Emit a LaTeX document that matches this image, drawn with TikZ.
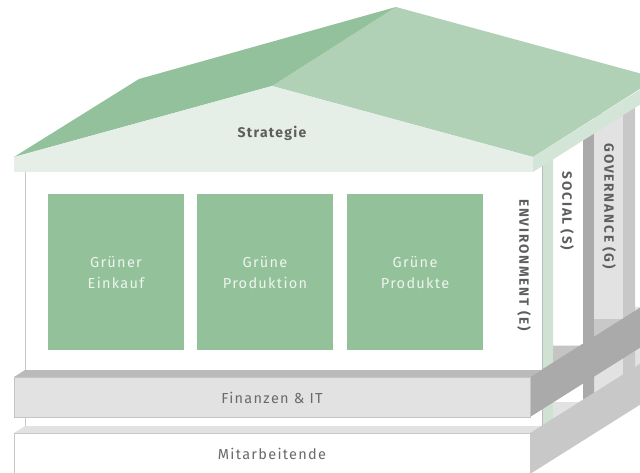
\documentclass[tikz,border=0pt]{standalone}
\usepackage{fontspec}
\setmainfont{Fira Sans}
\newfontfamily\labfont{Fira Sans}[LetterSpace=9]
\newfontfamily\pilfont{Fira Sans}[LetterSpace=14]
\definecolor{roofL}{HTML}{93C19B}
\definecolor{roofR}{HTML}{B1D1B6}
\definecolor{gable}{HTML}{E6EFE7}
\definecolor{strip}{HTML}{D3E5D6}
\definecolor{eside}{HTML}{D0E3D3}
\definecolor{boxg}{HTML}{93C19A}
\definecolor{txtg}{HTML}{6A6A6A}
\definecolor{piltxt}{HTML}{5E5E5E}
\definecolor{gA}{HTML}{AAAAAA}
\definecolor{gB}{HTML}{C4C4C4}
\definecolor{gC}{HTML}{C8C8C8}
\definecolor{gD}{HTML}{E2E2E2}
\definecolor{gE}{HTML}{E6E6E6}
\definecolor{boxtxt}{HTML}{EEF4EE}
\tikzset{
  greenbox/.style={fill=boxg, draw=none},
  boxtext/.style={font=\labfont\fontsize{14.5}{21}\selectfont, text=boxtxt, align=center, inner sep=0pt},
  planktext/.style={font=\labfont\fontsize{14.5}{16}\selectfont, text=txtg, inner sep=0pt},
  piltext/.style={font=\pilfont\bfseries\fontsize{13.5}{15}\selectfont, text=piltxt, rotate=-90, inner sep=0pt},
}
\begin{document}
\begin{tikzpicture}[x=1pt,y=-1pt]
\useasboundingbox (0,0) rectangle (640,473);
\clip (0,0) rectangle (640,473);
% Mitarbeitende top face (floor)
\fill[gD] (14,433) -- (530,433) -- (730,307) -- (214,307) -- cycle;
% columns
\fill[white] (553,139) rectangle (583,401.5);
\fill[gA] (583,131) -- (594,131) -- (594,393) -- (583,400) -- cycle;
\fill[gD] (594,113) rectangle (623,375);
\fill[gC] (623,106) -- (635,106) -- (635,367) -- (623,375) -- cycle;
% E side (green)
\fill[eside] (542,158) -- (553,158) -- (553,419) -- (542,426) -- cycle;
% front wall
\fill[white] (25,170) rectangle (542,426);
\draw[gC, line width=1pt] (25,172) -- (25,426);
\draw[gA!80, line width=0.8pt] (542,165) -- (542,426);
% Finanzen top face pieces
\fill[gB] (553,345.5) -- (583,345.5) -- (553,363) -- cycle;
\fill[gC] (594,319) -- (623,319) -- (594,337) -- cycle;
\fill[gB!95!black] (14,377) -- (530,377) -- (541,370) -- (25,370) -- cycle;
% Finanzen side band
\fill[gA] (530,377) -- (730,251) -- (730,291) -- (530,417) -- cycle;
% Finanzen front
\draw[fill=gD, draw=gB, line width=1pt] (14,377) rectangle (530,417);
\node[planktext] (fin) at (272,398) {Finanzen \& IT};
% Mitarbeitende
\fill[gC] (530,433) -- (730,307) -- (730,348) -- (530,474) -- cycle;
\fill[white] (14,433) rectangle (530,480);
\draw[gC, line width=1pt] (14,480) -- (14,433) -- (530,433) -- (530,480);
\node[planktext] (mit) at (272,454) {Mitarbeitende};
% green boxes
\fill[greenbox] (48,194) rectangle (184,350);
\fill[greenbox] (197,194) rectangle (333,350);
\fill[greenbox] (347,194) rectangle (483,350);
\node[boxtext] (b1) at (116,272.5) {Grüner\\Einkauf};
\node[boxtext] (b2) at (265,272.5) {Grüne\\Produktion};
\node[boxtext] (b3) at (415,272.5) {Grüne\\Produkte};
% pillar labels
\node[piltext] (env) at (524,265) {ENVIRONMENT (E)};
\node[piltext] (soc) at (567,211) {SOCIAL (S)};
\node[piltext] (gov) at (609,206) {GOVERNANCE (G)};
% roof
\fill[roofR] (272,86) -- (396,7) -- (657,78) -- (533,157) -- cycle;
\fill[roofL] (14,157) -- (139,79) -- (396,7) -- (272,86) -- cycle;
\fill[strip] (533,157) -- (533,172) -- (700,66.8) -- (700,51.8) -- cycle;
\fill[gable] (14,157) -- (272,86) -- (533,157) -- (533,172) -- (14,172) -- cycle;
\node[font=\labfont\bfseries\fontsize{14}{16}\selectfont, text=piltxt, inner sep=0pt] (strat) at (272,133) {Strategie};
\end{tikzpicture}
\end{document}
